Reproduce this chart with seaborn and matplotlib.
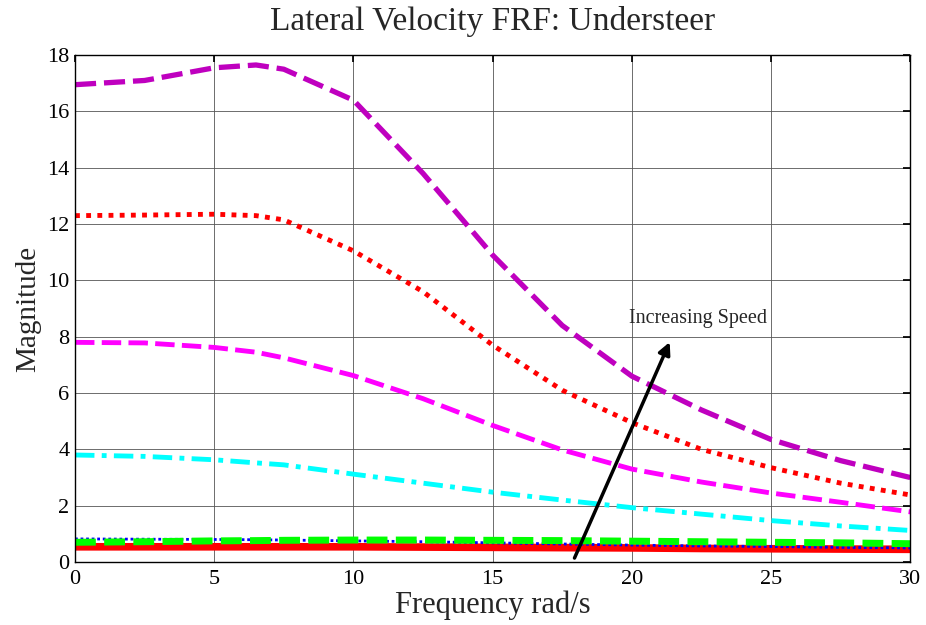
import numpy as np
import pandas as pd
import matplotlib
matplotlib.use("Agg")
import matplotlib.pyplot as plt
import seaborn as sns

freq = [0, 2.5, 5, 6.5, 7.5, 10, 12.5, 15, 17.5, 20, 22.5, 25, 27.5, 30]
purple_dash = [16.95, 17.1, 17.55, 17.65, 17.5, 16.4, 13.8, 10.9, 8.4, 6.6, 5.4, 4.35, 3.6, 3.0]
red_dot = [12.3, 12.32, 12.35, 12.3, 12.15, 11.05, 9.6, 7.7, 6.1, 4.95, 4.0, 3.35, 2.8, 2.38]
magenta_dash = [7.8, 7.78, 7.62, 7.45, 7.25, 6.62, 5.8, 4.85, 3.98, 3.3, 2.84, 2.45, 2.12, 1.78]
cyan_dashdot = [3.8, 3.75, 3.63, 3.52, 3.45, 3.12, 2.8, 2.48, 2.2, 1.93, 1.7, 1.47, 1.28, 1.12]
green_dash = [0.7, 0.72, 0.75, 0.76, 0.77, 0.78, 0.78, 0.77, 0.76, 0.74, 0.72, 0.7, 0.68, 0.65]
blue_dot = [0.82, 0.81, 0.8, 0.79, 0.78, 0.75, 0.72, 0.68, 0.64, 0.6, 0.57, 0.55, 0.52, 0.5]
red_solid = [0.54, 0.54, 0.54, 0.54, 0.54, 0.54, 0.53, 0.52, 0.51, 0.5, 0.48, 0.47, 0.46, 0.45]

series = [
    ("red_solid", red_solid, "#ff0000", "-", 5.5),
    ("blue_dot", blue_dot, "#0000ff", (0, (1, 1)), 2.0),
    ("green_dash", green_dash, "#00ff00", (0, (3, 1.2)), 5.0),
    ("cyan_dashdot", cyan_dashdot, "#00ffff", (0, (4, 1.5, 1, 1.5)), 3.5),
    ("magenta_dash", magenta_dash, "#ff00ff", (0, (4, 1.5)), 3.5),
    ("red_dot", red_dot, "#ff0000", (0, (1, 1.3)), 3.5),
    ("purple_dash", purple_dash, "#bf00bf", (0, (4, 1.5)), 3.8),
]

sns.set_theme(style="white")
plt.rcParams['font.family'] = ['Liberation Serif', 'DejaVu Serif']

fig = plt.figure(figsize=(9.26, 6.25), dpi=100)
ax = fig.add_axes([0.081, 0.1008, 0.902, 0.811])

for name, vals, col, ls, lw in series:
    df = pd.DataFrame({"f": freq, "m": vals})
    sns.lineplot(data=df, x="f", y="m", ax=ax, color=col, linewidth=lw, linestyle=ls)

ax.set_xlim(0, 30)
ax.set_ylim(0, 18)
ax.set_xticks(range(0, 31, 5))
ax.set_yticks(range(0, 19, 2))
ax.grid(True, color="#555555", linewidth=0.6)
ax.tick_params(direction="in", top=True, right=True, labelsize=16, length=5, colors="black")
ax.tick_params(axis="x", pad=6)
ax.tick_params(axis="y", pad=4)
for s in ax.spines.values():
    s.set_color("black")
    s.set_linewidth(1.0)

ax.set_title("Lateral Velocity FRF: Understeer", fontsize=24, pad=18)
ax.set_xlabel("Frequency rad/s", fontsize=22, labelpad=1)
ax.set_ylabel("Magnitude", fontsize=21, labelpad=4)

ax.annotate("", xy=(21.4, 7.9), xytext=(17.9, 0.05),
            arrowprops=dict(arrowstyle="-|>", color="black", lw=2.5, mutation_scale=18))
ax.text(19.9, 8.66, "Increasing Speed", fontsize=14.5, va="center", ha="left")

fig.savefig("out.png", dpi=100)
